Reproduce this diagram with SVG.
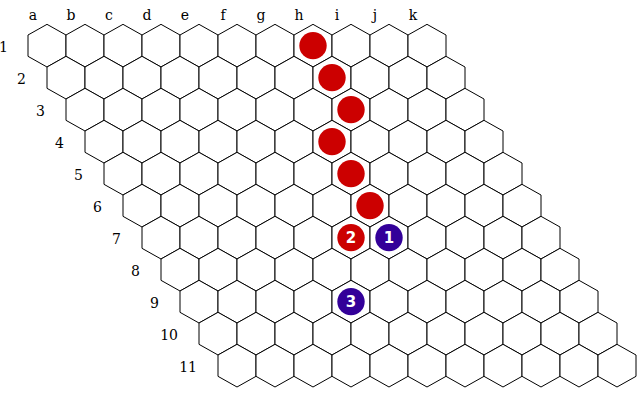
<svg xmlns="http://www.w3.org/2000/svg" xmlns:xlink="http://www.w3.org/1999/xlink" width="643" height="404" viewBox="0 0 643 404">
<style>
.hex{fill:#fff;stroke:#000;stroke-width:1}
.lbl{font-family:"DejaVu Serif","Liberation Serif",serif;font-size:14px;fill:#000}
.col{text-anchor:middle}
.row{text-anchor:end}
.red{fill:#cc0000}
.blue{fill:#330099}
.num{font-family:"DejaVu Sans","Liberation Sans",sans-serif;font-weight:bold;font-size:15px;fill:#fff;text-anchor:middle}
</style>
<defs>
<path id="hex" class="hex" d="M0,-21.33 L19,-10.67 L19,10.67 L0,21.33 L-19,10.67 L-19,-10.67 Z"/>
<circle id="stone" r="13.7"/>
</defs>
<rect width="643" height="404" fill="#fff"/>
<g id="labels">
<text class="lbl col" x="33" y="20">a</text>
<text class="lbl col" x="71" y="20">b</text>
<text class="lbl col" x="109" y="20">c</text>
<text class="lbl col" x="147" y="20">d</text>
<text class="lbl col" x="185" y="20">e</text>
<text class="lbl col" x="223" y="20">f</text>
<text class="lbl col" x="261" y="20">g</text>
<text class="lbl col" x="299" y="20">h</text>
<text class="lbl col" x="337" y="20">i</text>
<text class="lbl col" x="375" y="20">j</text>
<text class="lbl col" x="413" y="20">k</text>
<text class="lbl row" x="8" y="51.7">1</text>
<text class="lbl row" x="26" y="83.7">2</text>
<text class="lbl row" x="45" y="115.7">3</text>
<text class="lbl row" x="64" y="147.7">4</text>
<text class="lbl row" x="83" y="179.7">5</text>
<text class="lbl row" x="102" y="211.7">6</text>
<text class="lbl row" x="121" y="243.7">7</text>
<text class="lbl row" x="140" y="275.7">8</text>
<text class="lbl row" x="159" y="307.7">9</text>
<text class="lbl row" x="178" y="339.7">10</text>
<text class="lbl row" x="197" y="371.7">11</text>
</g>
<g id="board">
<g id="a1"><use href="#hex" x="47" y="45.67"/></g>
<g id="b1"><use href="#hex" x="85" y="45.67"/></g>
<g id="c1"><use href="#hex" x="123" y="45.67"/></g>
<g id="d1"><use href="#hex" x="161" y="45.67"/></g>
<g id="e1"><use href="#hex" x="199" y="45.67"/></g>
<g id="f1"><use href="#hex" x="237" y="45.67"/></g>
<g id="g1"><use href="#hex" x="275" y="45.67"/></g>
<g id="h1"><use href="#hex" x="313" y="45.67"/></g>
<g id="i1"><use href="#hex" x="351" y="45.67"/></g>
<g id="j1"><use href="#hex" x="389" y="45.67"/></g>
<g id="k1"><use href="#hex" x="427" y="45.67"/></g>
<g id="a2"><use href="#hex" x="66" y="77.67"/></g>
<g id="b2"><use href="#hex" x="104" y="77.67"/></g>
<g id="c2"><use href="#hex" x="142" y="77.67"/></g>
<g id="d2"><use href="#hex" x="180" y="77.67"/></g>
<g id="e2"><use href="#hex" x="218" y="77.67"/></g>
<g id="f2"><use href="#hex" x="256" y="77.67"/></g>
<g id="g2"><use href="#hex" x="294" y="77.67"/></g>
<g id="h2"><use href="#hex" x="332" y="77.67"/></g>
<g id="i2"><use href="#hex" x="370" y="77.67"/></g>
<g id="j2"><use href="#hex" x="408" y="77.67"/></g>
<g id="k2"><use href="#hex" x="446" y="77.67"/></g>
<g id="a3"><use href="#hex" x="85" y="109.67"/></g>
<g id="b3"><use href="#hex" x="123" y="109.67"/></g>
<g id="c3"><use href="#hex" x="161" y="109.67"/></g>
<g id="d3"><use href="#hex" x="199" y="109.67"/></g>
<g id="e3"><use href="#hex" x="237" y="109.67"/></g>
<g id="f3"><use href="#hex" x="275" y="109.67"/></g>
<g id="g3"><use href="#hex" x="313" y="109.67"/></g>
<g id="h3"><use href="#hex" x="351" y="109.67"/></g>
<g id="i3"><use href="#hex" x="389" y="109.67"/></g>
<g id="j3"><use href="#hex" x="427" y="109.67"/></g>
<g id="k3"><use href="#hex" x="465" y="109.67"/></g>
<g id="a4"><use href="#hex" x="104" y="141.67"/></g>
<g id="b4"><use href="#hex" x="142" y="141.67"/></g>
<g id="c4"><use href="#hex" x="180" y="141.67"/></g>
<g id="d4"><use href="#hex" x="218" y="141.67"/></g>
<g id="e4"><use href="#hex" x="256" y="141.67"/></g>
<g id="f4"><use href="#hex" x="294" y="141.67"/></g>
<g id="g4"><use href="#hex" x="332" y="141.67"/></g>
<g id="h4"><use href="#hex" x="370" y="141.67"/></g>
<g id="i4"><use href="#hex" x="408" y="141.67"/></g>
<g id="j4"><use href="#hex" x="446" y="141.67"/></g>
<g id="k4"><use href="#hex" x="484" y="141.67"/></g>
<g id="a5"><use href="#hex" x="123" y="173.67"/></g>
<g id="b5"><use href="#hex" x="161" y="173.67"/></g>
<g id="c5"><use href="#hex" x="199" y="173.67"/></g>
<g id="d5"><use href="#hex" x="237" y="173.67"/></g>
<g id="e5"><use href="#hex" x="275" y="173.67"/></g>
<g id="f5"><use href="#hex" x="313" y="173.67"/></g>
<g id="g5"><use href="#hex" x="351" y="173.67"/></g>
<g id="h5"><use href="#hex" x="389" y="173.67"/></g>
<g id="i5"><use href="#hex" x="427" y="173.67"/></g>
<g id="j5"><use href="#hex" x="465" y="173.67"/></g>
<g id="k5"><use href="#hex" x="503" y="173.67"/></g>
<g id="a6"><use href="#hex" x="142" y="205.67"/></g>
<g id="b6"><use href="#hex" x="180" y="205.67"/></g>
<g id="c6"><use href="#hex" x="218" y="205.67"/></g>
<g id="d6"><use href="#hex" x="256" y="205.67"/></g>
<g id="e6"><use href="#hex" x="294" y="205.67"/></g>
<g id="f6"><use href="#hex" x="332" y="205.67"/></g>
<g id="g6"><use href="#hex" x="370" y="205.67"/></g>
<g id="h6"><use href="#hex" x="408" y="205.67"/></g>
<g id="i6"><use href="#hex" x="446" y="205.67"/></g>
<g id="j6"><use href="#hex" x="484" y="205.67"/></g>
<g id="k6"><use href="#hex" x="522" y="205.67"/></g>
<g id="a7"><use href="#hex" x="161" y="237.67"/></g>
<g id="b7"><use href="#hex" x="199" y="237.67"/></g>
<g id="c7"><use href="#hex" x="237" y="237.67"/></g>
<g id="d7"><use href="#hex" x="275" y="237.67"/></g>
<g id="e7"><use href="#hex" x="313" y="237.67"/></g>
<g id="f7"><use href="#hex" x="351" y="237.67"/></g>
<g id="g7"><use href="#hex" x="389" y="237.67"/></g>
<g id="h7"><use href="#hex" x="427" y="237.67"/></g>
<g id="i7"><use href="#hex" x="465" y="237.67"/></g>
<g id="j7"><use href="#hex" x="503" y="237.67"/></g>
<g id="k7"><use href="#hex" x="541" y="237.67"/></g>
<g id="a8"><use href="#hex" x="180" y="269.67"/></g>
<g id="b8"><use href="#hex" x="218" y="269.67"/></g>
<g id="c8"><use href="#hex" x="256" y="269.67"/></g>
<g id="d8"><use href="#hex" x="294" y="269.67"/></g>
<g id="e8"><use href="#hex" x="332" y="269.67"/></g>
<g id="f8"><use href="#hex" x="370" y="269.67"/></g>
<g id="g8"><use href="#hex" x="408" y="269.67"/></g>
<g id="h8"><use href="#hex" x="446" y="269.67"/></g>
<g id="i8"><use href="#hex" x="484" y="269.67"/></g>
<g id="j8"><use href="#hex" x="522" y="269.67"/></g>
<g id="k8"><use href="#hex" x="560" y="269.67"/></g>
<g id="a9"><use href="#hex" x="199" y="301.67"/></g>
<g id="b9"><use href="#hex" x="237" y="301.67"/></g>
<g id="c9"><use href="#hex" x="275" y="301.67"/></g>
<g id="d9"><use href="#hex" x="313" y="301.67"/></g>
<g id="e9"><use href="#hex" x="351" y="301.67"/></g>
<g id="f9"><use href="#hex" x="389" y="301.67"/></g>
<g id="g9"><use href="#hex" x="427" y="301.67"/></g>
<g id="h9"><use href="#hex" x="465" y="301.67"/></g>
<g id="i9"><use href="#hex" x="503" y="301.67"/></g>
<g id="j9"><use href="#hex" x="541" y="301.67"/></g>
<g id="k9"><use href="#hex" x="579" y="301.67"/></g>
<g id="a10"><use href="#hex" x="218" y="333.67"/></g>
<g id="b10"><use href="#hex" x="256" y="333.67"/></g>
<g id="c10"><use href="#hex" x="294" y="333.67"/></g>
<g id="d10"><use href="#hex" x="332" y="333.67"/></g>
<g id="e10"><use href="#hex" x="370" y="333.67"/></g>
<g id="f10"><use href="#hex" x="408" y="333.67"/></g>
<g id="g10"><use href="#hex" x="446" y="333.67"/></g>
<g id="h10"><use href="#hex" x="484" y="333.67"/></g>
<g id="i10"><use href="#hex" x="522" y="333.67"/></g>
<g id="j10"><use href="#hex" x="560" y="333.67"/></g>
<g id="k10"><use href="#hex" x="598" y="333.67"/></g>
<g id="a11"><use href="#hex" x="237" y="365.67"/></g>
<g id="b11"><use href="#hex" x="275" y="365.67"/></g>
<g id="c11"><use href="#hex" x="313" y="365.67"/></g>
<g id="d11"><use href="#hex" x="351" y="365.67"/></g>
<g id="e11"><use href="#hex" x="389" y="365.67"/></g>
<g id="f11"><use href="#hex" x="427" y="365.67"/></g>
<g id="g11"><use href="#hex" x="465" y="365.67"/></g>
<g id="h11"><use href="#hex" x="503" y="365.67"/></g>
<g id="i11"><use href="#hex" x="541" y="365.67"/></g>
<g id="j11"><use href="#hex" x="579" y="365.67"/></g>
<g id="k11"><use href="#hex" x="617" y="365.67"/></g>
</g>
<g id="stones">
<g id="stone-h1"><use href="#stone" class="red" x="313" y="45.67"/></g>
<g id="stone-h2"><use href="#stone" class="red" x="332" y="77.67"/></g>
<g id="stone-h3"><use href="#stone" class="red" x="351" y="109.67"/></g>
<g id="stone-g4"><use href="#stone" class="red" x="332" y="141.67"/></g>
<g id="stone-g5"><use href="#stone" class="red" x="351" y="173.67"/></g>
<g id="stone-g6"><use href="#stone" class="red" x="370" y="205.67"/></g>
<g id="stone-f7"><use href="#stone" class="red" x="351" y="237.67"/><text class="num" x="351" y="243">2</text></g>
<g id="stone-g7"><use href="#stone" class="blue" x="389" y="237.67"/><text class="num" x="389" y="243">1</text></g>
<g id="stone-e9"><use href="#stone" class="blue" x="351" y="301.67"/><text class="num" x="351" y="307">3</text></g>
</g>
<g id="connectors"></g>
</svg>
